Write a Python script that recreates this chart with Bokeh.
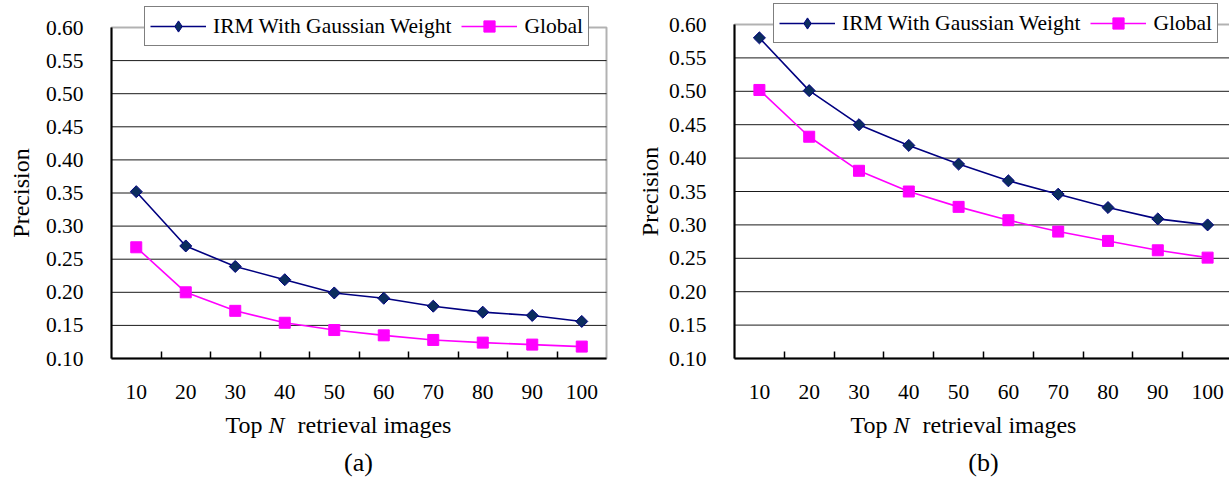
import numpy as np
from bokeh.plotting import figure
from bokeh.models import (Legend, LegendItem, FixedTicker, Label, ColumnDataSource, Range1d,
                          BoxAnnotation)
from bokeh.layouts import row
from bokeh.embed import file_html
from bokeh.resources import INLINE

# ---- data ----
top_n = [10, 20, 30, 40, 50, 60, 70, 80, 90, 100]
irm_a = [0.352, 0.270, 0.239, 0.219, 0.199, 0.191, 0.179, 0.170, 0.165, 0.156]
global_a = [0.268, 0.200, 0.172, 0.154, 0.143, 0.135, 0.128, 0.124, 0.121, 0.118]
irm_b = [0.580, 0.501, 0.450, 0.419, 0.391, 0.366, 0.346, 0.326, 0.309, 0.300]
global_b = [0.502, 0.432, 0.381, 0.350, 0.327, 0.307, 0.290, 0.276, 0.262, 0.251]
y_ticks = [0.10, 0.15, 0.20, 0.25, 0.30, 0.35, 0.40, 0.45, 0.50, 0.55, 0.60]
y_tick_labels = ["0.10", "0.15", "0.20", "0.25", "0.30", "0.35", "0.40", "0.45", "0.50", "0.55", "0.60"]
x_tick_labels = ["10", "20", "30", "40", "50", "60", "70", "80", "90", "100"]
series_names = ["IRM With Gaussian Weight", "Global"]
captions = ["(a)", "(b)"]
y_label = "Precision"
x_label_parts = ["Top", "N", "retrieval images"]

FONT = "Liberation Serif"
IRM_LINE = "#000080"
IRM_FILL = "#0b2d5e"
GLOBAL_COLOR = "#ff00ff"
H = 483

step = top_n[1] - top_n[0]
x_lo, x_hi = top_n[0] - step / 2, top_n[-1] + step / 2
y_lo, y_hi = y_ticks[0], y_ticks[-1]


def make_chart(irm, glob, caption, width, fx0, fx1, fy_top, fy_bot,
               legend_xy, lab_x, ylab_x, cap_x):
    # fx0/fx1: pixel of x_lo/x_hi ; fy_top/fy_bot: pixel of y_hi/y_lo (canvas coordinates)
    xs_per = (fx1 - fx0) / (x_hi - x_lo)
    ys_per = (fy_bot - fy_top) / (y_hi - y_lo)
    xr = Range1d(x_lo - fx0 / xs_per, x_lo + (width - fx0) / xs_per)
    yr = Range1d(y_lo - (H - fy_bot) / ys_per, y_hi + fy_top / ys_per)

    p = figure(width=width, height=H, output_backend="svg", toolbar_location=None,
               x_range=xr, y_range=yr,
               min_border_left=0, min_border_right=0, min_border_top=0, min_border_bottom=0,
               background_fill_color="white", border_fill_color="white")
    p.outline_line_color = None
    p.xgrid.grid_line_color = None
    p.ygrid.grid_line_color = None
    # range used only so that the legend's diamond glyph has a renderer off-screen
    p.extra_y_ranges = {"legend_only": Range1d(10, 11)}

    # horizontal gridlines only inside the plotting box
    inner = y_ticks[1:-1]
    p.segment(x0=[x_lo] * len(inner), y0=inner, x1=[x_hi] * len(inner), y1=inner,
              line_color="#1a1a1a", line_width=1)

    # x axis: labels at centres, small inner ticks at category boundaries
    ax = p.xaxis[0]
    ax.fixed_location = y_lo
    ax.bounds = (x_lo, x_hi)
    ax.ticker = FixedTicker(ticks=top_n, minor_ticks=[t + step / 2 for t in top_n[:-1]])
    ax.major_label_overrides = {v: s for v, s in zip(top_n, x_tick_labels)}
    ax.major_tick_in = 0
    ax.major_tick_out = 0
    ax.minor_tick_in = 7
    ax.minor_tick_out = 0
    ax.minor_tick_line_color = "black"
    ax.minor_tick_line_width = 1.5
    ax.axis_line_color = "black"
    ax.axis_line_width = 2
    ax.major_label_standoff = 26
    ax.major_label_text_font = FONT
    ax.major_label_text_font_size = "21.5px"
    ax.major_label_text_color = "black"

    ay = p.yaxis[0]
    ay.fixed_location = x_lo
    ay.bounds = (y_lo, y_hi)
    ay.ticker = FixedTicker(ticks=y_ticks, minor_ticks=[])
    ay.major_label_overrides = {v: s for v, s in zip(y_ticks, y_tick_labels)}
    ay.major_tick_in = 0
    ay.major_tick_out = 0
    ay.minor_tick_in = 0
    ay.minor_tick_out = 0
    ay.axis_line_color = "black"
    ay.axis_line_width = 2
    ay.major_label_standoff = 28
    ay.major_label_text_font = FONT
    ay.major_label_text_font_size = "21.5px"
    ay.major_label_text_color = "black"

    src = ColumnDataSource(dict(x=top_n, irm=irm, glob=glob))
    l1 = p.line("x", "irm", source=src, line_color=IRM_LINE, line_width=1.6)
    p.scatter("x", "irm", source=src, marker="square", angle=np.pi / 4, size=8.5,
              fill_color=IRM_FILL, line_color=IRM_LINE, line_width=1)
    l2 = p.line("x", "glob", source=src, line_color=GLOBAL_COLOR, line_width=1.6)
    m2 = p.scatter("x", "glob", source=src, marker="square", size=11,
                   fill_color=GLOBAL_COLOR, line_color=GLOBAL_COLOR, line_width=1)
    # legend swatch for the diamond series (mapped through an off-screen range)
    proxy = p.scatter("x", "irm", source=src, y_range_name="legend_only", marker="diamond",
                      size=14.5, fill_color=IRM_FILL, line_color=IRM_LINE, line_width=1)

    # plot border
    p.add_layout(BoxAnnotation(left=x_lo, right=x_hi, bottom=y_lo, top=y_hi,
                               fill_color=None, fill_alpha=0, line_color="black",
                               line_width=2, level="annotation"))

    legend = Legend(items=[LegendItem(label=series_names[0], renderers=[l1, proxy]),
                           LegendItem(label=series_names[1], renderers=[l2, m2])],
                    orientation="horizontal", location=(legend_xy[0], H - legend_xy[1]),
                    margin=0, padding=5, spacing=10, glyph_width=56, glyph_height=28,
                    label_standoff=7, label_text_font=FONT,
                    label_text_font_size="21.5px", label_text_color="black",
                    border_line_color="black", border_line_width=1.5,
                    background_fill_color="white", background_fill_alpha=1.0,
                    level="overlay")
    p.add_layout(legend)

    # y axis title
    p.add_layout(Label(x=ylab_x, y=H - (fy_top + fy_bot) / 2, x_units="screen", y_units="screen",
                       text=y_label, angle=np.pi / 2, text_font=FONT, text_font_size="24px",
                       text_color="black", text_align="center", text_baseline="middle",
                       level="overlay"))
    # x axis title with italic N
    xs = [lab_x, lab_x + 43, lab_x + 72]
    styles = ["normal", "italic", "normal"]
    for txt, xx, st in zip(x_label_parts, xs, styles):
        p.add_layout(Label(x=xx, y=H - 424, x_units="screen", y_units="screen", text=txt,
                           text_font=FONT, text_font_size="24px", text_font_style=st,
                           text_color="black", text_baseline="alphabetic", text_align="left",
                           level="overlay"))
    # caption
    p.add_layout(Label(x=cap_x, y=H - 462, x_units="screen", y_units="screen", text=caption,
                       text_font=FONT, text_font_size="26px", text_color="black",
                       text_baseline="alphabetic", text_align="center", level="overlay"))
    return p


pa = make_chart(irm_a, global_a, captions[0], 628, 111, 606, 27, 358,
                (144, 46), 225, 20, 358)
pb = make_chart(irm_b, global_b, captions[1], 601, 106, 604, 24, 358,
                (145, 43), 222, 21, 355)

layout = row(pa, pb, spacing=0)
open("out.html", "w").write(file_html(layout, INLINE))
